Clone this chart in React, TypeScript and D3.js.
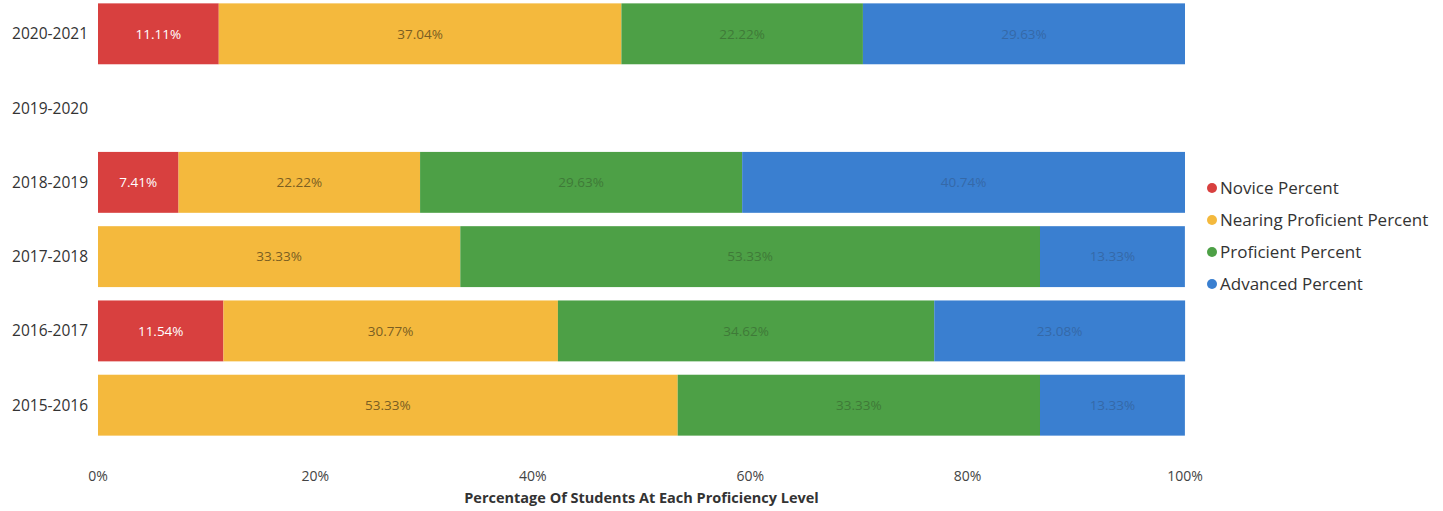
import React from "react";
import * as d3 from "d3";

const years = ["2020-2021", "2019-2020", "2018-2019", "2017-2018", "2016-2017", "2015-2016"];
const novice = [11.11, 0, 7.41, 0, 11.54, 0];
const nearing = [37.04, 0, 22.22, 33.33, 30.77, 53.33];
const proficient = [22.22, 0, 29.63, 53.33, 34.62, 33.33];
const advanced = [29.63, 0, 40.74, 13.33, 23.08, 13.33];
const seriesNames = ["Novice Percent", "Nearing Proficient Percent", "Proficient Percent", "Advanced Percent"];
const seriesColors = ["#D8403F", "#F4B93D", "#4DA046", "#3A7FD0"];
const labelColors = ["#ffffff", "#7a5e22", "#3f7a38", "#3569a8"];
const xTicks = [0, 20, 40, 60, 80, 100];

const W = 1443;
const H = 511;
const FONT = "'Open Sans', 'Noto Sans', sans-serif";

export default function App() {
  const x = d3.scaleLinear().domain([0, 100]).range([98, 1185]);
  const y = d3.scaleBand<string>().domain(years).range([-10, 449]).paddingInner(0.18).paddingOuter(0.18);

  const rows = years.map((yr, i) => ({
    year: yr,
    novice: novice[i],
    nearing: nearing[i],
    proficient: proficient[i],
    advanced: advanced[i],
  }));
  const keys = ["novice", "nearing", "proficient", "advanced"];
  const stacked = d3.stack<any>().keys(keys)(rows);

  return (
    <svg
      width={W}
      height={H}
      style={{ position: "absolute", left: 0, top: 0, background: "#fff" }}
      fontFamily={FONT}
    >
      {stacked.map((layer, si) => (
        <g key={keys[si]}>
          {layer.map((d, i) => {
            const v = d[1] - d[0];
            if (v <= 0) return null;
            const x0 = x(d[0]);
            const x1 = x(d[1]);
            const yy = y(years[i])!;
            const bh = y.bandwidth();
            return (
              <g key={i}>
                <rect x={x0} y={yy} width={x1 - x0} height={bh} fill={seriesColors[si]} />
                <text
                  x={(x0 + x1) / 2}
                  y={yy + bh / 2}
                  dy="0.35em"
                  textAnchor="middle"
                  fontSize={13.5}
                  fill={labelColors[si]}
                >
                  {v.toFixed(2)}%
                </text>
              </g>
            );
          })}
        </g>
      ))}

      {years.map((yr) => (
        <text
          key={yr}
          x={88}
          y={y(yr)! + y.bandwidth() / 2}
          dy="0.35em"
          textAnchor="end"
          fontSize={15.5}
          fill="#333"
        >
          {yr}
        </text>
      ))}

      {xTicks.map((t) => (
        <text key={t} x={x(t)} y={481} textAnchor="middle" fontSize={14} fill="#444">
          {t}%
        </text>
      ))}
      <text x={(x(0) + x(100)) / 2} y={503} textAnchor="middle" fontSize={14.5} fontWeight="bold" fill="#333">
        Percentage Of Students At Each Proficiency Level
      </text>

      {seriesNames.map((name, i) => (
        <g key={name} transform={`translate(1212, ${188 + i * 32})`}>
          <circle cx={0} cy={0} r={5} fill={seriesColors[i]} />
          <text x={8} y={0} dy="0.35em" fontSize={17} fill="#333">
            {name}
          </text>
        </g>
      ))}
    </svg>
  );
}
